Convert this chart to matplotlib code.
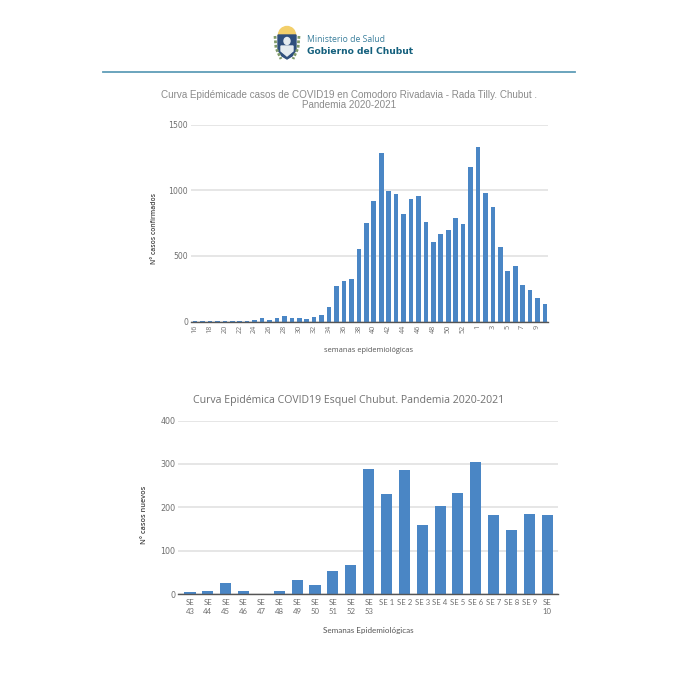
#!/usr/bin/env python3
import matplotlib
matplotlib.use('Agg')
import matplotlib.pyplot as plt
from matplotlib.patches import Circle, Polygon, Ellipse

W, H = 699, 674

# Comodoro Rivadavia - Rada Tilly
weeks_top = list(range(16, 54)) + list(range(1, 11))
cases_top = [2, 2, 2, 2, 2, 2, 2, 2, 8, 30, 12, 25, 43, 25, 25, 18, 38, 50, 107, 274,
             305, 322, 553, 749, 916, 1284, 992, 972, 815, 929, 954, 756, 609, 665, 698,
             789, 739, 1175, 1330, 980, 871, 571, 386, 426, 279, 241, 178, 135]
yticks_top = [0, 500, 1000, 1500]

# Esquel
weeks_bot = ['SE\n43', 'SE\n44', 'SE\n45', 'SE\n46', 'SE\n47', 'SE\n48', 'SE\n49', 'SE\n50',
             'SE\n51', 'SE\n52', 'SE\n53', 'SE 1', 'SE 2', 'SE 3', 'SE 4', 'SE 5', 'SE 6',
             'SE 7', 'SE 8', 'SE 9', 'SE\n10']
cases_bot = [4, 6, 25, 6, 0, 8, 33, 20, 53, 67, 289, 230, 285, 159, 204, 233, 305, 183, 147, 185, 183]
yticks_bot = [0, 100, 200, 300, 400]

BAR = '#4a86c5'
GRID = '#e2e2e2'
TICK = '#6f6f6f'


def px_axes(fig, left, top, right, bottom):
    return fig.add_axes([left / W, 1 - bottom / H, (right - left) / W, (bottom - top) / H])


def style(ax, yticks):
    for s in ['top', 'left', 'right']:
        ax.spines[s].set_visible(False)
    ax.spines['bottom'].set_color('#555555')
    ax.spines['bottom'].set_linewidth(1.0)
    ax.set_yticks(yticks)
    ax.set_ylim(yticks[0], yticks[-1])
    ax.grid(axis='y', color=GRID, linewidth=1.2)
    ax.set_axisbelow(True)
    ax.tick_params(length=0, colors=TICK)


def draw_logo(ax):
    ax.add_patch(Circle((287, 35), 8.5, color='#f3cf6a', zorder=1))
    shield = [(278, 35), (296, 35), (296, 50), (292, 56), (287, 59), (282, 56), (278, 50)]
    ax.add_patch(Polygon(shield, closed=True, color='#2f4f7d', zorder=2))
    ax.add_patch(Polygon([(281, 46), (293, 46), (293, 51), (287, 56), (281, 51)], closed=True,
                         color='#e4ebf0', zorder=3))
    ax.add_patch(Ellipse((287, 41), 6, 7, color='#e4ebf0', zorder=3))
    ax.plot([275, 276, 281], [36, 48, 59], color='#7f9a6a', lw=2.0, ls=(0, (1, 0.6)), zorder=2)
    ax.plot([299, 298, 293], [36, 48, 59], color='#7f9a6a', lw=2.0, ls=(0, (1, 0.6)), zorder=2)
    ax.text(307, 40, 'Ministerio de Salud', fontsize=6.2, family='Open Sans', color='#3a7f9c',
            va='center', ha='left')
    ax.text(307, 52, 'Gobierno del Chubut', fontsize=6.6, family='DejaVu Sans', weight='bold',
            color='#14607d', va='center', ha='left')


fig = plt.figure(figsize=(W / 100, H / 100), dpi=100, facecolor='white')

# page layer in pixel coordinates: logo, rule and the titles
page = fig.add_axes([0, 0, 1, 1])
page.set_xlim(0, W)
page.set_ylim(H, 0)
page.axis('off')
draw_logo(page)
page.plot([103, 575], [71.5, 71.5], color='#5f9db8', lw=1.3)
page.text(349, 95, 'Curva Epidémicade casos de COVID19 en Comodoro Rivadavia - Rada Tilly. Chubut .',
          fontsize=7.15, family='Liberation Sans', color='#8a8a8a', ha='center', va='center')
page.text(349, 105, 'Pandemia 2020-2021', fontsize=7.15, family='Liberation Sans', color='#8a8a8a',
          ha='center', va='center')
page.text(349, 400, 'Curva Epidémica COVID19 Esquel Chubut. Pandemia 2020-2021', fontsize=7.55,
          family='Open Sans', color='#707070', ha='center', va='center')
page.text(369, 350, 'semanas epidemiológicas', fontsize=5.4, family='Open Sans', color='#555555',
          ha='center', va='center')
page.text(368, 631, 'Semanas Epidemiológicas', fontsize=5.8, family='Lato', color='#555555',
          ha='center', va='center')
page.text(155, 228, 'N° casos confirmados', fontsize=4.9, family='Open Sans', weight='semibold',
          color='#444444', rotation=90, ha='center', va='center')
page.text(145, 515, 'N° casos nuevos', fontsize=5.3, family='Open Sans', weight='semibold',
          color='#444444', rotation=90, ha='center', va='center')

# top chart
ax1 = px_axes(fig, 191, 124.5, 548, 321.5)
ax1.bar(range(len(cases_top)), cases_top, width=0.62, color=BAR)
style(ax1, yticks_top)
ax1.set_xlim(-0.54, 47.4)
ax1.set_xticks(range(0, len(weeks_top), 2))
ax1.set_xticklabels([str(w) for w in weeks_top[::2]], rotation=90, fontsize=5.2, family='Open Sans')
ax1.tick_params(axis='x', pad=2.5)
ax1.tick_params(axis='y', labelsize=5.6, pad=2)

# bottom chart
ax2 = px_axes(fig, 178, 420.5, 558, 594)
ax2.bar(range(len(cases_bot)), cases_bot, width=0.62, color=BAR)
style(ax2, yticks_bot)
ax2.set_xlim(-0.67, 20.6)
ax2.set_xticks(range(len(weeks_bot)))
ax2.set_xticklabels(weeks_bot, fontsize=5.6, family='Lato', linespacing=1.3)
for lab in ax2.get_xticklabels():
    lab.set_verticalalignment('top')
ax2.tick_params(axis='x', pad=3.5)
ax2.tick_params(axis='y', labelsize=5.8, pad=2)

fig.savefig('out.png', dpi=100)
